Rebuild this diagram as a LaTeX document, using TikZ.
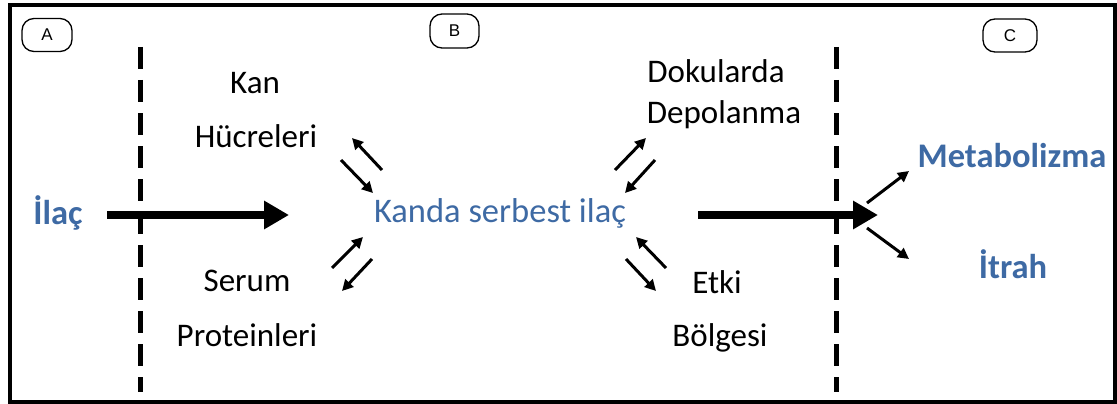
\documentclass[tikz,border=0pt]{standalone}
\usepackage{fontspec}
\setmainfont{Carlito}
\newfontfamily\lblfont{Liberation Sans}
\usetikzlibrary{arrows.meta}
\definecolor{txtblue}{RGB}{62,106,164}
\begin{document}
\begin{tikzpicture}[x=1pt,y=-1pt,
 lbl/.style={draw, rounded corners=12pt, line width=1.3pt, inner sep=0pt, font=\lblfont\fontsize{17}{19}\selectfont},
 blk/.style={font=\fontsize{33}{36}\selectfont, inner sep=0pt, anchor=base},
 blu/.style={font=\bfseries\fontsize{34.5}{38}\selectfont, text=txtblue, inner sep=0pt, anchor=base},
 sm/.style={-{Triangle[length=11pt,width=11pt]}, line width=3pt},
 big/.style={-{Triangle[length=25pt,width=27pt]}, line width=8.5pt},
 divider/.style={line width=5pt, dash pattern=on 22pt off 11pt}]
\useasboundingbox (0,0) rectangle (1117,404);
\draw[line width=4pt] (10,5) rectangle (1115,402);
% section labels
\node[lbl, minimum width=50pt, minimum height=33pt] (A) at (47,35) {A};
\node[lbl, minimum width=49pt, minimum height=34pt] (B) at (454.5,31) {B};
\node[lbl, minimum width=54pt, minimum height=33pt] (C) at (1010,35.5) {C};
% dividers
\coordinate (d1t) at (140,47); \coordinate (d1b) at (140,392);
\coordinate (d2t) at (836,47); \coordinate (d2b) at (836,392);
\draw[divider] (d1t) -- (d1b);
\draw[divider] (d2t) -- (d2b);
% texts
\node[blu] (ilac) at (58,224) {İlaç};
\node[font=\fontsize{34.5}{38}\selectfont, text=txtblue, inner sep=0pt, anchor=base] (kanda) at (500,222) {Kanda serbest ilaç};
\node[blk] (kan) at (255,93) {Kan};
\node[blk] (hucre) at (256,147) {Hücreleri};
\node[blk] (serum) at (247,291) {Serum};
\node[blk] (prot) at (247,346) {Proteinleri};
\node[blk] (doku) at (716,83) {Dokularda};
\node[blk] (depo) at (724,123) {Depolanma};
\node[blk] (etki) at (717,293) {Etki};
\node[blk] (bolge) at (720,346) {Bölgesi};
\node[blu] (meta) at (1012,167) {Metabolizma};
\node[blu] (itrah) at (1013,278) {İtrah};
% main arrows
\coordinate (m1s) at (107,215); \coordinate (m1e) at (289,215);
\coordinate (m2s) at (698,215); \coordinate (m2e) at (878,215);
\draw[big] (m1s) -- (m1e);
\draw[big] (m2s) -- (m2e);
% branches
\coordinate (b0a) at (867,203); \coordinate (b1) at (909,171);
\coordinate (b0b) at (867,228); \coordinate (b2) at (909,259);
\draw[sm] (b0a) -- (b1);
\draw[sm] (b0b) -- (b2);
% exchange arrows
\coordinate (a1s) at (382,170); \coordinate (a1e) at (352,138);
\coordinate (a2s) at (341,160); \coordinate (a2e) at (373,193);
\coordinate (a3s) at (332,268); \coordinate (a3e) at (363,237);
\coordinate (a4s) at (372,259); \coordinate (a4e) at (342,291);
\coordinate (a5s) at (615,170); \coordinate (a5e) at (646,138);
\coordinate (a6s) at (655,160); \coordinate (a6e) at (625,193);
\coordinate (a7s) at (666,268); \coordinate (a7e) at (636,237);
\coordinate (a8s) at (626,259); \coordinate (a8e) at (656,291);
\foreach \i in {1,...,8} {\draw[sm] (a\i s) -- (a\i e);}
\end{tikzpicture}
\end{document}
